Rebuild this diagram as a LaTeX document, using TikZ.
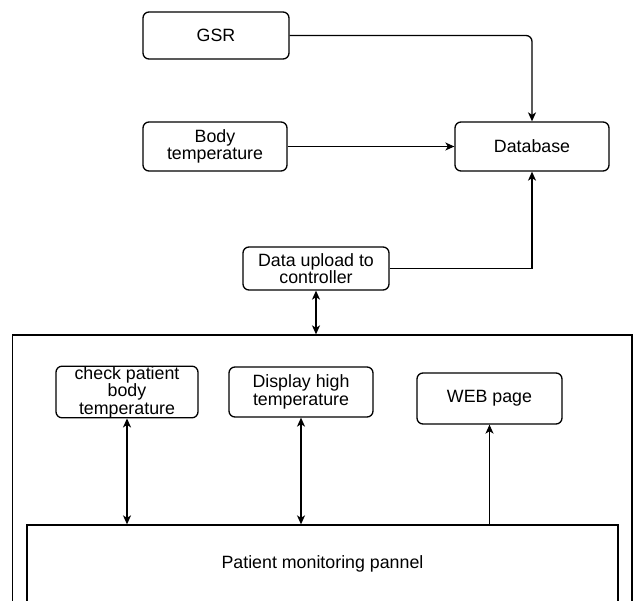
\documentclass[tikz,border=0pt]{standalone}
\usepackage{fontspec}
\setmainfont{Liberation Sans}
\usetikzlibrary{arrows.meta}
\begin{document}
\begin{tikzpicture}[x=1pt,y=-1pt,
  txt/.style={font=\fontsize{17.8}{17.5}\selectfont, align=center, inner sep=0pt},
  box/.style={txt, draw, rounded corners=6pt, line width=1.3pt},
  plainbox/.style={txt, draw, line width=1.3pt},
  tip/.tip={Stealth[length=9pt,width=8pt,inset=2.5pt]},
  conn/.style={line width=1.3pt, -tip},
  biconn/.style={line width=1.3pt, tip-tip}]
\clip (0,0) rectangle (634,601);
\fill[white] (0,0) rectangle (634,601);
% top part
\node[box, minimum width=146pt, minimum height=47pt] (gsr) at (216,35.5) {GSR};
\node[box, minimum width=144pt, minimum height=49pt] (body) at (215,146.5) {Body\\temperature};
\node[box, minimum width=154pt, minimum height=49pt] (db) at (532,146.5) {Database};
\node[box, minimum width=146pt, minimum height=43pt] (up) at (316,268.5) {Data upload to\\controller};
% container
\node[plainbox, minimum width=619.5pt, minimum height=285pt] (outer) at (322.25,477.5) {};
\node[box, minimum width=142pt, minimum height=50pt] (chk) at (127,392) {check patient\\body\\temperature};
\node[box, minimum width=144pt, minimum height=50pt] (disp) at (301,392) {Display high\\temperature};
\node[box, minimum width=145pt, minimum height=51pt] (web) at (489.5,398.5) {WEB page};
\node[plainbox, minimum width=591pt, minimum height=78pt] (panel) at (322.5,564) {Patient monitoring pannel};
% connectors
\draw[conn, rounded corners=6pt] (gsr.east) -| (db.north);
\draw[conn] (body.east) -- (db.west);
\draw[conn] (up.east) -| (db.south);
\draw[biconn] (up.south) -- (up.south |- outer.north);
\draw[biconn] (chk.south) -- (chk.south |- panel.north);
\draw[biconn] (disp.south) -- (disp.south |- panel.north);
\draw[conn] (web.south |- panel.north) -- (web.south);
\end{tikzpicture}
\end{document}
